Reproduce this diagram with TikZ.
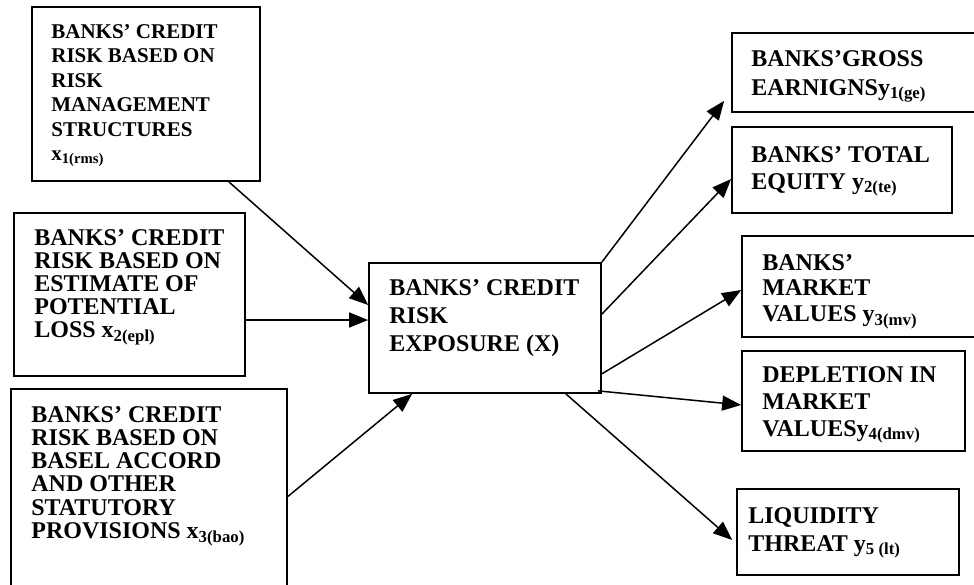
\documentclass[tikz,border=0pt]{standalone}
\usepackage{fontspec}
\setmainfont{Liberation Serif}
\usetikzlibrary{arrows.meta}

\tikzset{
  box/.style={draw, line width=1.7pt, rectangle, inner sep=0pt},
  txt/.style={anchor=north west, inner sep=0pt, align=left,
    font=\fontsize{24pt}{#1}\selectfont\bfseries},
  txt/.default=27pt,
  arr/.style={line width=1.5pt, -{Triangle[length=19pt, width=15pt]}},
}

\begin{document}
\begin{tikzpicture}[x=1pt, y=-1pt]
  \clip (0,0) rectangle (974,584);
  % left boxes
  \node[box, minimum width=228pt, minimum height=174pt] (x1) at (146,94) {};
  \node[box, minimum width=231pt, minimum height=163pt] (x2) at (129.5,294.5) {};
  \node[box, minimum width=276pt, minimum height=211pt] (x3) at (149,494.5) {};
  % centre box
  \node[box, minimum width=232pt, minimum height=130pt] (X) at (485,328) {};
  % right boxes
  \node[box, minimum width=258pt, minimum height=79pt] (y1) at (861,72.5) {};
  \node[box, minimum width=220pt, minimum height=86pt] (y2) at (842,170) {};
  \node[box, minimum width=248pt, minimum height=101pt] (y3) at (866,286.5) {};
  \node[box, minimum width=223pt, minimum height=100pt] (y4) at (853.5,401) {};
  \node[box, minimum width=222pt, minimum height=86pt] (y5) at (848,532) {};

  % texts
  \node[txt, font=\fontsize{21pt}{24.5pt}\selectfont\bfseries] (x1t)
    at ([shift={(20,18)}]x1.north west)
    {BANKS' CREDIT\\RISK BASED ON\\RISK\\MANAGEMENT\\STRUCTURES\\x\textsubscript{1(rms)}};
  \node[txt=23pt] (x2t) at ([shift={(21,17)}]x2.north west)
    {BANKS' CREDIT\\RISK BASED ON\\ESTIMATE OF\\POTENTIAL\\LOSS x\textsubscript{2(epl)}};
  \node[txt=23.2pt] (x3t) at ([shift={(21,18)}]x3.north west)
    {BANKS' CREDIT\\RISK BASED ON\\BASEL ACCORD\\AND OTHER\\STATUTORY\\PROVISIONS x\textsubscript{3(bao)}};
  \node[txt=28pt] (Xt) at ([shift={(21,17)}]X.north west)
    {BANKS' CREDIT\\RISK\\EXPOSURE (X)};
  \node[txt=28.7pt] (y1t) at ([shift={(20,18)}]y1.north west)
    {BANKS'GROSS\\EARNIGNSy\textsubscript{1(ge)}};
  \node[txt=26.7pt] (y2t) at ([shift={(20,20)}]y2.north west)
    {BANKS' TOTAL\\EQUITY y\textsubscript{2(te)}};
  \begin{scope}
    \clip (y3.north west) rectangle (y3.south east);
    \node[txt=25.5pt] (y3t) at ([shift={(21,19)}]y3.north west)
      {BANKS'\\MARKET\\VALUES y\textsubscript{3(mv)}};
  \end{scope}
  \begin{scope}
    \clip (y4.north west) rectangle (y4.south east);
    \node[txt=27pt] (y4t) at ([shift={(21,16)}]y4.north west)
      {DEPLETION IN\\MARKET\\VALUESy\textsubscript{4(dmv)}};
  \end{scope}
  \node[txt=28pt] (y5t) at ([shift={(12,19)}]y5.north west)
    {LIQUIDITY\\THREAT y\textsubscript{5 (lt)}};

  % arrows in
  \draw[arr] ([xshift=-32pt]x1.south east) -- ([yshift=23pt]X.west);
  \draw[arr] ([yshift=-25.5pt]x2.east) -- ([yshift=8pt]X.west);
  \draw[arr] ([yshift=-2pt]x3.east) -- ([xshift=44pt]X.south west);
  % arrows out
  \draw[arr] (X.north east) -- ([shift={(-7pt,12pt)}]y1.south west);
  \draw[arr] ([yshift=-52pt]X.north east) -- ([yshift=-9pt]y2.west);
  \draw[arr] ([yshift=20pt]X.south east) -- ([yshift=-3.5pt]y3.west);
  \draw[arr] ([shift={(-4pt,3pt)}]X.south east) -- ([yshift=-4pt]y4.west);
  \draw[arr] ([xshift=-36pt]X.south east) -- ([shift={(-4pt,-8pt)}]y5.west);
\end{tikzpicture}
\end{document}
